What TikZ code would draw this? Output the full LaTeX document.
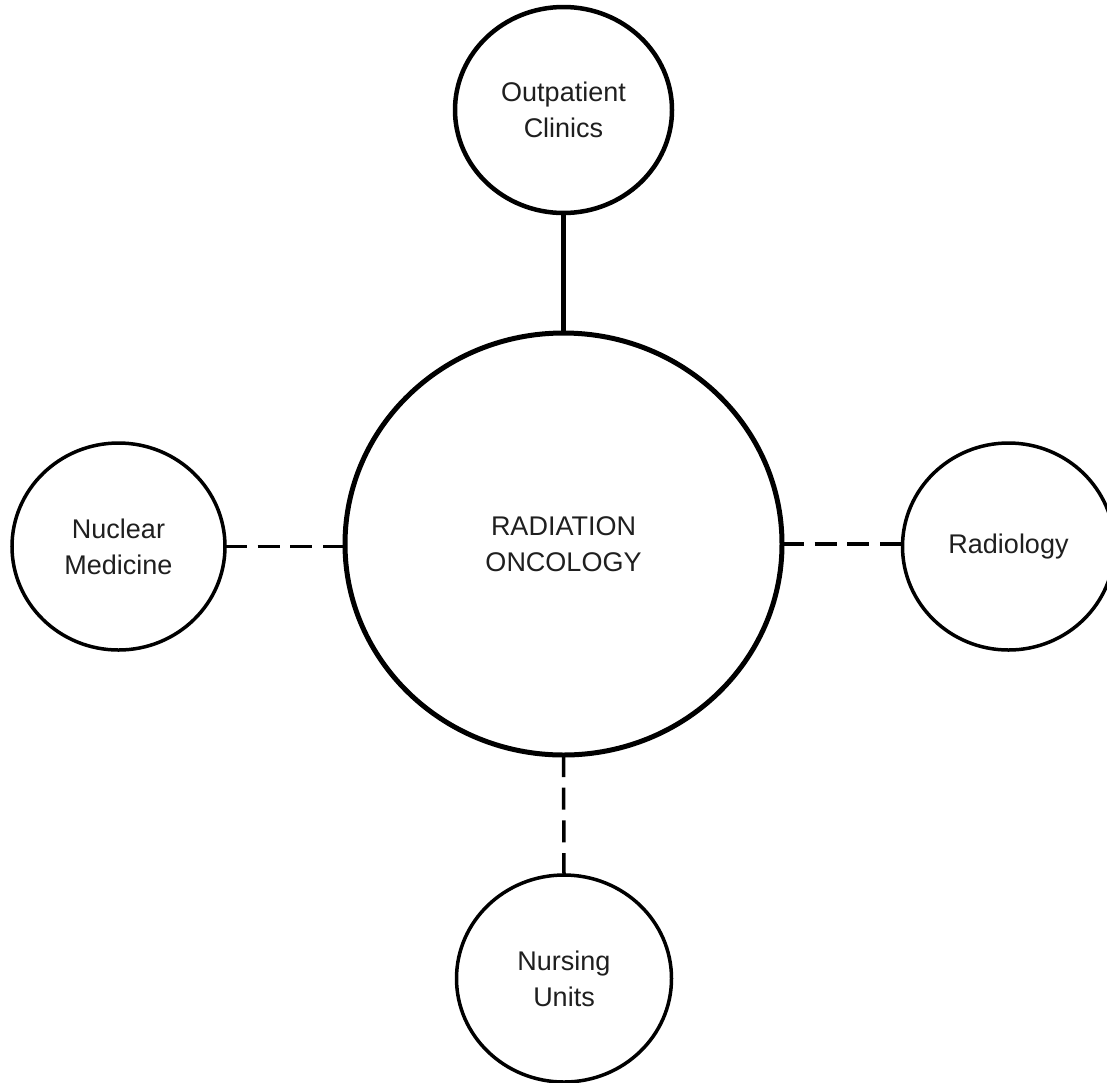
\documentclass[tikz,border=0pt]{standalone}
\usepackage{fontspec}
\setmainfont{Liberation Sans}
\usetikzlibrary{shapes.geometric}
\begin{document}
\begin{tikzpicture}[x=1pt,y=-1pt,
  bubble/.style={ellipse,draw=black,fill=white,inner sep=0pt,outer sep=0pt,align=center,
    font=\fontsize{27}{36}\selectfont,text=black!88},
  thickline/.style={line width=4.5pt},
  thinline/.style={line width=3.5pt},
  dashlink/.style={line width=3.5pt,dash pattern=on 22pt off 10.7pt},
  solidlink/.style={line width=4.5pt}]
\useasboundingbox[fill=white] (0,0) rectangle (1107,1082);
\node[bubble,line width=5pt,minimum width=437pt,minimum height=422pt] (rad) at (563.5,544) {RADIATION\\ONCOLOGY};
\node[bubble,thickline,minimum width=217pt,minimum height=206pt] (outp) at (563.5,110) {Outpatient\\Clinics};
\node[bubble,thinline,minimum width=213pt,minimum height=207pt] (nuc) at (118.5,546.5) {Nuclear\\Medicine};
\node[bubble,thinline,minimum width=212pt,minimum height=207pt] (radio) at (1008.5,546.5) {Radiology};
\node[bubble,thinline,minimum width=215pt,minimum height=207pt] (nurs) at (564,978.5) {Nursing\\Units};
\draw[solidlink] (outp) -- (rad);
\draw[dashlink] (nuc.east) -- (nuc.east -| rad.west);
\draw[dashlink] (rad.east) -- (rad.east -| radio.west);
\draw[dashlink] (rad.south) -- (nurs.north);
\end{tikzpicture}
\end{document}
